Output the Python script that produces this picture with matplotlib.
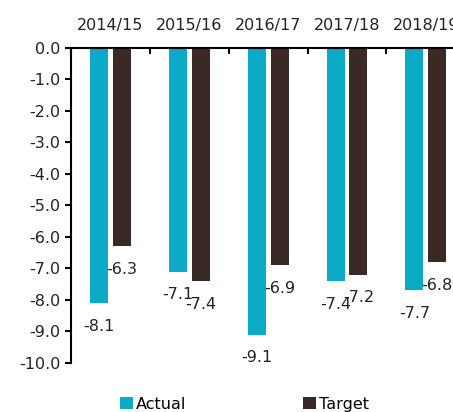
import numpy as np
import matplotlib.pyplot as plt

years = ["2014/15", "2015/16", "2016/17", "2017/18", "2018/19"]
actual = [-8.1, -7.1, -9.1, -7.4, -7.7]
target = [-6.3, -7.4, -6.9, -7.2, -6.8]

c_actual = "#0BABC8"
c_target = "#3A2925"

plt.rcParams['font.family'] = ['DejaVu Sans']

fig = plt.figure(figsize=(4.53, 4.12), dpi=100)
ax = fig.add_axes([0.157, 0.119, 0.87, 0.765])

x = np.arange(len(years))
w = 0.23
off = 0.145
b1 = ax.bar(x - off, actual, w, color=c_actual, label="Actual")
b2 = ax.bar(x + off, target, w, color=c_target, label="Target")

fs = 11.5
for xi, v in zip(x, actual):
    ax.text(xi - off, v - 0.5, f"{v:.1f}", ha="center", va="top", fontsize=fs, color="#222222")
for xi, v in zip(x, target):
    ax.text(xi + off, v - 0.5, f"{v:.1f}", ha="center", va="top", fontsize=fs, color="#222222")

ax.set_ylim(-10, 0)
ax.set_xlim(-0.5, len(years) - 0.5)
ax.set_yticks(np.arange(-10, 0.1, 1))
ax.set_yticklabels([f"{v:.1f}" for v in np.arange(-10, 0.1, 1)], fontsize=fs, color="#222222")

ax.xaxis.tick_top()
ax.set_xticks(x)
ax.set_xticklabels(years, fontsize=fs, color="#222222")
ax.set_xticks(np.arange(-0.5, len(years), 1), minor=True)
ax.tick_params(axis="x", which="major", length=0, pad=11)
ax.tick_params(axis="x", which="minor", direction="in", length=4, width=1.5, top=True, bottom=False)
ax.tick_params(axis="y", direction="out", length=4, width=1.5)

ax.spines["right"].set_visible(False)
ax.spines["bottom"].set_visible(False)
ax.spines["left"].set_linewidth(1.5)
ax.spines["top"].set_linewidth(1.5)

fig.legend(handles=[b1, b2], loc="upper center", bbox_to_anchor=(0.54, 0.072), ncol=2,
           frameon=False, fontsize=fs, handlelength=0.8, handleheight=0.8,
           handletextpad=0.2, columnspacing=7.3)

fig.savefig("out.png", dpi=100)
